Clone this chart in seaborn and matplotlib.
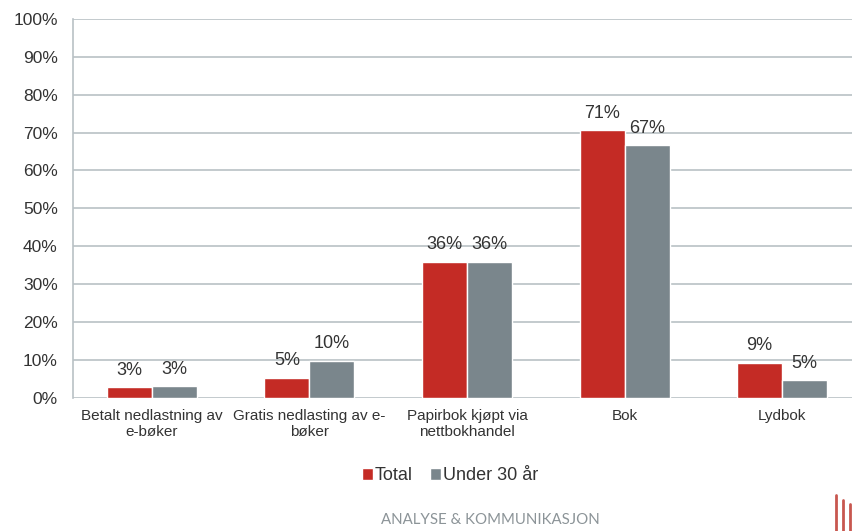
import numpy as np
import matplotlib.pyplot as plt
import seaborn as sns
import pandas as pd
from matplotlib.lines import Line2D

sns.set_style("white")
plt.rcParams['font.family'] = ['Liberation Sans', 'DejaVu Sans']

categories = ["Betalt nedlastning av\ne-bøker", "Gratis nedlasting av e-\nbøker",
              "Papirbok kjøpt via\nnettbokhandel", "Bok", "Lydbok"]
series = ["Total", "Under 30 år"]
total = [2.8, 5.2, 35.9, 70.6, 9.2]
under30 = [3.0, 9.7, 35.9, 66.7, 4.6]
yticks = [0, 10, 20, 30, 40, 50, 60, 70, 80, 90, 100]

df = pd.DataFrame({
    "kategori": categories * 2,
    "gruppe": [series[0]] * len(total) + [series[1]] * len(under30),
    "andel": total + under30,
})

red = "#C42B25"
grey = "#7A868C"
text_col = "#333333"
grid_col = "#B9C1C5"

fig = plt.figure(figsize=(8.52, 5.31), dpi=100)
ax = fig.add_axes([73 / 852, 1 - 397.5 / 531, 788 / 852, 378.5 / 531])

sns.barplot(data=df, x="kategori", y="andel", hue="gruppe",
            palette=[red, grey], width=0.572, gap=0, saturation=1,
            errorbar=None, ax=ax, legend=True)

ax.set_ylim(0, 100)
ax.set_xlim(-0.5, 4.5)
ax.set_yticks(yticks)
ax.set_yticklabels([f"{t}%" for t in yticks], fontsize=12.5, color=text_col)
ax.tick_params(axis="y", length=0, pad=11)
ax.tick_params(axis="x", length=0, pad=8, labelsize=11, labelcolor=text_col)
ax.yaxis.grid(True, color=grid_col, linewidth=1.2)
ax.set_axisbelow(True)
for side in ["top", "right", "bottom"]:
    ax.spines[side].set_visible(False)
ax.spines["left"].set_color(grid_col)
ax.spines["left"].set_linewidth(1.2)
ax.set_xlabel("")
ax.set_ylabel("")

for cont in ax.containers:
    ax.bar_label(cont, labels=[f"{round(b.get_height())}%" for b in cont],
                 padding=6, fontsize=13, color=text_col)

handles, labels = ax.get_legend_handles_labels()
ax.legend(handles, labels, loc="center", bbox_to_anchor=(450 / 852, 55 / 531),
          bbox_transform=fig.transFigure, ncol=2, frameon=False, fontsize=13,
          handlelength=0.6, handleheight=0.6, handletextpad=0.1,
          columnspacing=1.0, labelcolor=text_col)

fig.text(490 / 852, 4 / 531, "ANALYSE & KOMMUNIKASJON", ha="center",
         va="bottom", fontsize=10.8, color="#8C9498", family="Lato")

# logo lines, lower right
for x0, y0 in [(836, 495), (843, 500), (850, 504)]:
    fig.add_artist(Line2D([x0 / 852, x0 / 852], [0, 1 - y0 / 531],
                          color="#C8574F", linewidth=2, transform=fig.transFigure))

fig.savefig("out.png", dpi=100)
